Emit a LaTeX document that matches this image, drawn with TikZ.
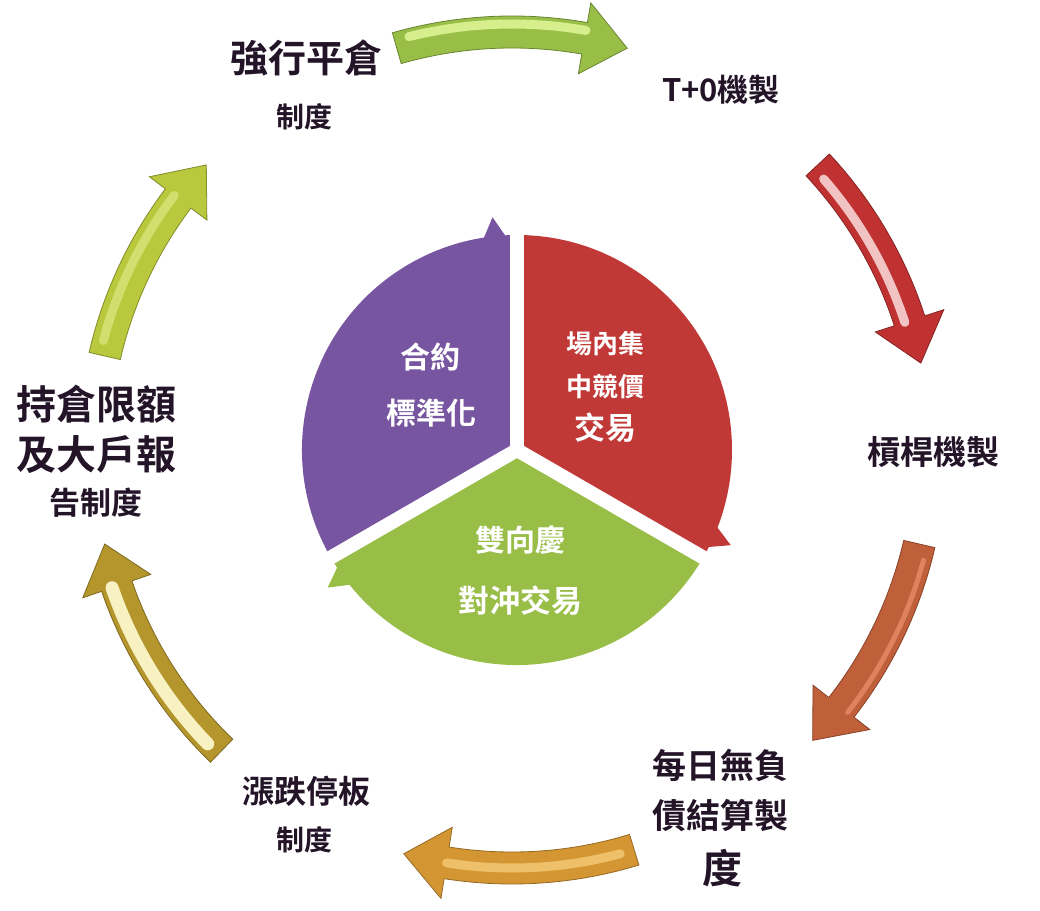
\documentclass[tikz,border=0pt]{standalone}
\usepackage{fontspec}
\setmainfont{Noto Sans CJK TC}[BoldFont={Noto Sans CJK TC Bold}]
\definecolor{labelc}{RGB}{35,20,40}
\definecolor{segP}{RGB}{120,85,160}
\definecolor{segR}{RGB}{192,57,54}
\definecolor{segG}{RGB}{152,190,72}
\definecolor{arrA}{RGB}{152,190,72}  \definecolor{arrAh}{RGB}{214,238,140}
\definecolor{arrB}{RGB}{192,50,50}   \definecolor{arrBh}{RGB}{242,195,195}
\definecolor{arrC}{RGB}{192,96,58}   \definecolor{arrCh}{RGB}{222,130,95}
\definecolor{arrD}{RGB}{212,150,50}  \definecolor{arrDh}{RGB}{238,192,105}
\definecolor{arrE}{RGB}{180,150,45}  \definecolor{arrEh}{RGB}{248,242,195}
\definecolor{arrF}{RGB}{185,200,60}  \definecolor{arrFh}{RGB}{210,222,110}
\tikzset{
  lbl/.style={text=labelc, inner sep=0pt, font=\bfseries\fontsize{#1}{#1}\selectfont},
  seglbl/.style={text=white, inner sep=0pt, font=\bfseries\fontsize{#1}{#1}\selectfont},
  cut/.style={white, line width=14pt}
}
\begin{document}
\begin{tikzpicture}[x=1pt,y=1pt]
\useasboundingbox (-517,-460) rectangle (523,450);
\coordinate (O) at (0,0);
% three sectors in the middle
\fill[segP] (O) -- (210:215) arc[start angle=210,end angle=90,radius=215] -- cycle;
\fill[segR] (O) -- (90:215) arc[start angle=90,end angle=-30,radius=215] -- cycle;
\fill[segG] (O) -- (-30:215) arc[start angle=-30,end angle=-150,radius=215] -- cycle;
\foreach \a in {90,-30,210} \draw[cut] (O) -- (\a:240);
\foreach \a/\c in {90/segP,-30/segR,210/segG} \fill[\c] (\a+9:214) -- (\a+6:234) -- (\a+2:208) -- cycle;
% ring of arrows
\begin{scope}[shift={(-5,0)}]
\foreach \s/\e/\c/\h/\o/\lw in {106/74/arrA/arrAh/8/9, 43/12/arrB/arrBh/-5/9, -13/-44/arrC/arrCh/8/5, -73/-105/arrD/arrDh/0/9, -134/-167/arrE/arrEh/5/13, 167/137/arrF/arrFh/5/9}{
  \pgfmathsetmacro\b{\e+6} \pgfmathsetmacro\t{\s-2} \pgfmathsetmacro\r{418+\o}
  \fill[\c, draw=\c!70!black, line width=0.8pt] (\s:434) arc[start angle=\s,end angle=\b,radius=434] -- (\b:454) -- (\e:418) -- (\b:382) -- (\b:402) arc[start angle=\b,end angle=\s,radius=402] -- cycle;
  \draw[\h, line width=\lw pt, line cap=round] (\t:\r) arc[start angle=\t,end angle=\b,radius=\r];
}
\end{scope}
% outer labels
\node[lbl=38] (qp1) at (-210,392) {強行平倉};
\node[lbl=28] (qp2) at (-212,333) {制度};
\node[lbl=31] (t0) at (204,360) {T+0機製};
\node[lbl=33] (gg) at (416,-2) {槓桿機製};
\node[lbl=34] (mr1) at (203,-315) {每日無負};
\node[lbl=34] (mr2) at (203,-366) {債結算製};
\node[lbl=40] (mr3) at (205,-418) {度};
\node[lbl=32] (zd1) at (-210,-341) {漲跌停板};
\node[lbl=28] (zd2) at (-212,-390) {制度};
\node[lbl=40] (cc1) at (-420,46) {持倉限額};
\node[lbl=40] (cc2) at (-420,-5) {及大戶報};
\node[lbl=31] (cc3) at (-421,-53) {告制度};
% labels in the sectors
\node[seglbl=30] (hy1) at (-87,93) {合約};
\node[seglbl=30] (hy2) at (-85,37) {標準化};
\node[seglbl=26] (cn1) at (88,106) {場內集};
\node[seglbl=26] (cn2) at (88,63) {中競價};
\node[seglbl=31] (cn3) at (88,22) {交易};
\node[seglbl=30] (sx1) at (3,-90) {雙向慶};
\node[seglbl=31] (sx2) at (3,-151) {對沖交易};
\end{tikzpicture}
\end{document}
